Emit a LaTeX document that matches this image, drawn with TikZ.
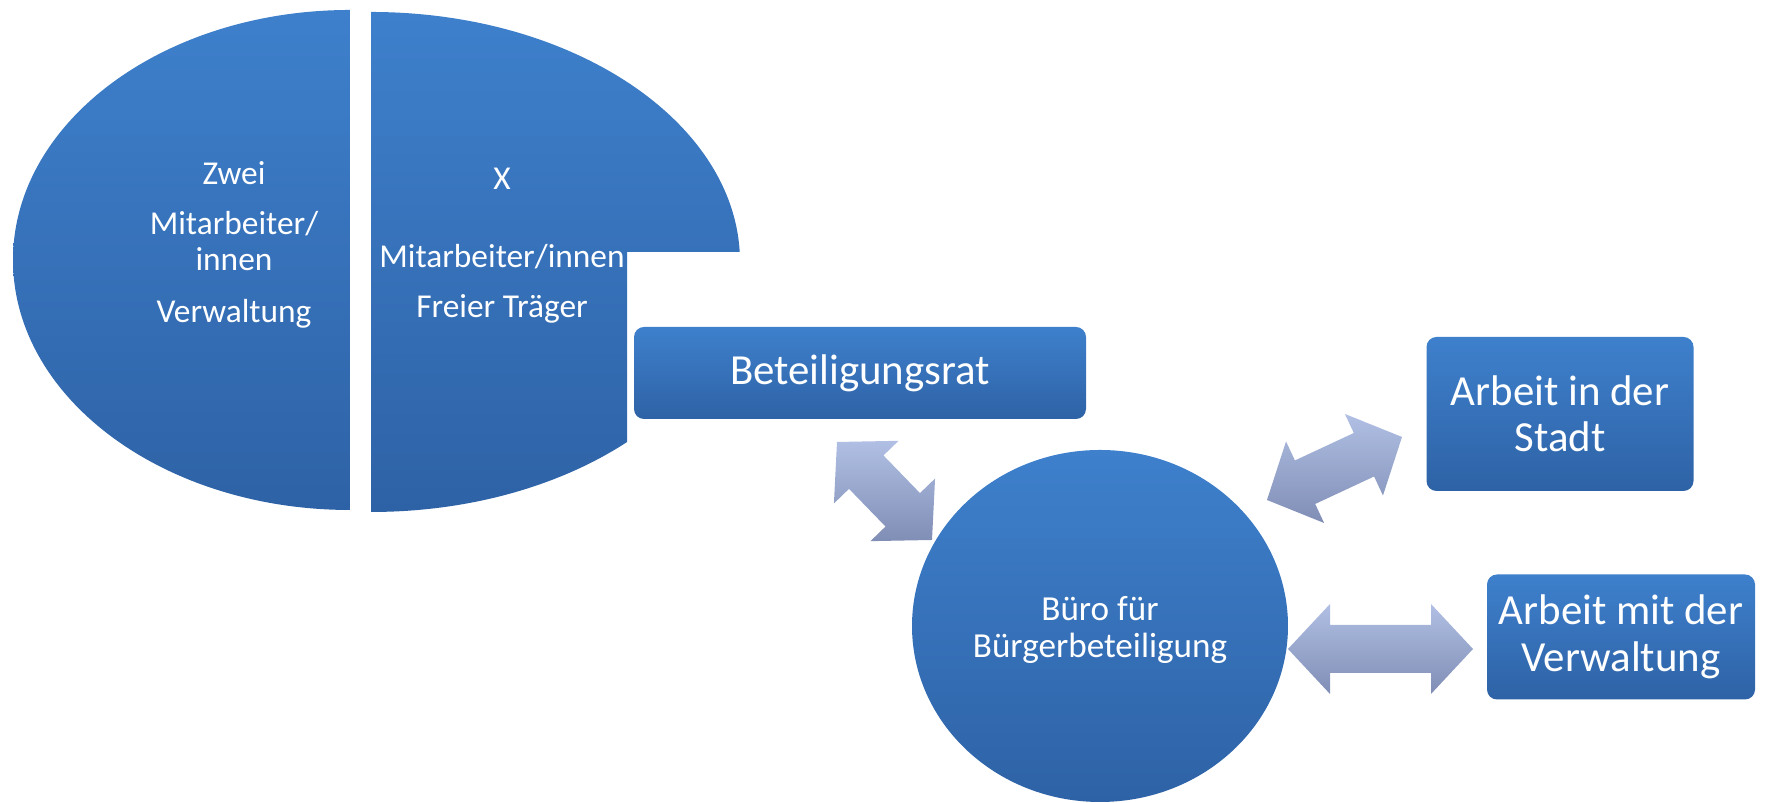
\documentclass[tikz,border=0pt]{standalone}
\usepackage{fontspec}
\setmainfont{Carlito}
\usepackage{tikz}
\usetikzlibrary{calc,shapes.geometric}

\newcommand\biarrow[2]{%
  \shade[arrowfill] (#1)
    -- ($(#1)!4.2mm!(#2)!4.5mm!90:(#2)$)
    -- ($(#1)!4.2mm!(#2)!2.4mm!90:(#2)$)
    -- ($(#2)!4.2mm!(#1)!2.4mm!-90:(#1)$)
    -- ($(#2)!4.2mm!(#1)!4.5mm!-90:(#1)$)
    -- (#2)
    -- ($(#2)!4.2mm!(#1)!4.5mm!90:(#1)$)
    -- ($(#2)!4.2mm!(#1)!2.4mm!90:(#1)$)
    -- ($(#1)!4.2mm!(#2)!2.4mm!-90:(#2)$)
    -- ($(#1)!4.2mm!(#2)!4.5mm!-90:(#2)$)
    -- cycle;}

\begin{document}
\begin{tikzpicture}[x=0.1mm,y=0.1mm,
  bluefill/.style={top color=btop,bottom color=bbottom,draw=none},
  box/.style={bluefill,rounded corners=1mm,align=center,text=white,inner sep=0pt,
    font=\fontsize{12.2}{13.2}\selectfont},
  smalltxt/.style={align=center,text=white,font=\fontsize{9.5}{10.2}\selectfont},
  arrowfill/.style={top color=atop,bottom color=abottom,draw=none}]
  \definecolor{btop}{RGB}{62,128,204}
  \definecolor{bbottom}{RGB}{46,98,166}
  \definecolor{atop}{RGB}{176,191,227}
  \definecolor{abottom}{RGB}{128,142,182}
  \useasboundingbox (0,0) rectangle (1767,803);
  % split ellipse
  \shade[bluefill] (350,793) arc[start angle=90,end angle=270,x radius=337,y radius=250] -- cycle;
  \begin{scope}
    \clip (371,803) -- (770,803) -- (770,551) -- (627,551) -- (627,0) -- (371,0) -- cycle;
    \shade[bluefill] (371,791) arc[start angle=90,end angle=-90,x radius=369,y radius=250] -- cycle;
  \end{scope}
  \node[smalltxt] (verwalt) at (234,558) {Zwei\\[4pt]Mitarbeiter/\\innen\\[4.5pt]Verwaltung};
  \node[smalltxt] (traeger) at (502,557) {X\\[12pt]Mitarbeiter/innen\\[4pt]Freier Träger};
  % boxes
  \node[box,minimum width=45.2mm,minimum height=9.2mm] (rat) at (860,430) {Beteiligungsrat};
  \node[box,minimum width=26.7mm,minimum height=15.4mm] (stadt) at (1560,389) {Arbeit in der\\Stadt};
  \node[box,minimum width=26.8mm,minimum height=12.5mm] (verw) at (1621,166) {Arbeit mit der\\Verwaltung};
  \node[ellipse,bluefill,smalltxt,font=\fontsize{10}{10.6}\selectfont,inner sep=0pt,
    minimum width=37.6mm,minimum height=35.2mm] (buero) at (1100,177) {};
  \node[smalltxt,font=\fontsize{10}{10.6}\selectfont] (buerotxt) at (1100,173) {Büro für\\Bürgerbeteiligung};
  % arrows
  \coordinate (r1) at (837,361);
  \coordinate (r2) at (932,263);
  \coordinate (s1) at (1267,303);
  \coordinate (s2) at (1402,366);
  \coordinate (v1) at (1288,154);
  \coordinate (v2) at (1473,154);
  \biarrow{r1}{r2}
  \biarrow{s1}{s2}
  \biarrow{v1}{v2}
\end{tikzpicture}
\end{document}
